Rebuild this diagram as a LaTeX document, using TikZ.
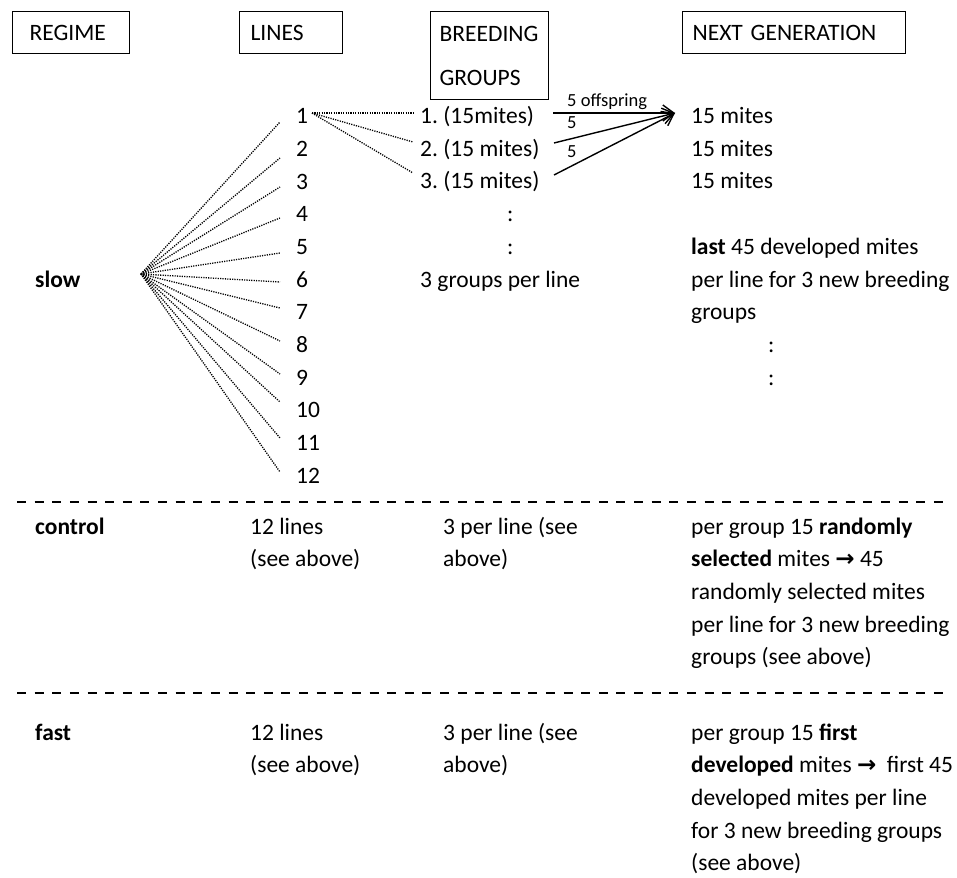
\documentclass[tikz,border=0pt]{standalone}
\usepackage{fontspec}
\setmainfont{Carlito}
\newfontfamily\arrowfont{DejaVu Sans}
\usetikzlibrary{arrows.meta}
\frenchspacing
\begin{document}
\begin{tikzpicture}[x=1pt,y=-1pt,
  txt/.style={anchor=base west, inner sep=0pt, align=left, font=\fontsize{23.5}{32.67}\selectfont},
  hdr/.style={draw, line width=1.2pt, anchor=north west, inner ysep=0pt, align=left, font=\fontsize{23.5}{44}\selectfont},
  fanline/.style={line width=1.3pt, dash pattern=on 1.2pt off 1.2pt},
  arr/.style={line width=1.4pt, -{Straight Barb[length=11pt,width=16pt,line width=1.4pt]}},
  sepline/.style={line width=1.5pt, dash pattern=on 9pt off 8.63pt},
  lab/.style={anchor=base west, inner sep=0pt, font=\fontsize{18.5}{20}\selectfont}]
\useasboundingbox (0,0) rectangle (957,877);
\fill[white] (0,0) rectangle (957,877);
\newcommand\myarrow{{\arrowfont\bfseries\fontsize{23}{24}\selectfont →}}
% header boxes
\node[hdr, inner xsep=17pt, text width=83pt, minimum height=42pt] (hregime) at (12,11) {REGIME};
\node[hdr, inner xsep=11pt, text width=81pt, minimum height=42pt] (hlines) at (239,11) {LINES};
\node[hdr, inner xsep=9pt, text width=100pt, minimum height=88pt] (hbreed) at (430,11) {BREEDING\\GROUPS};
\node[hdr, inner xsep=10pt, text width=203pt, minimum height=42pt] (hnext) at (682,11) {NEXT GENERATION};
% slow regime
\node[txt] (slow) at (35,287) {\textbf{slow}};
\coordinate (fan) at (141,274);
\foreach \i/\y in {1/122,2/158,3/187,4/218,5/253,6/282,7/308,8/341,9/374,10/402,11/438,12/472}
  \coordinate (f\i) at (280,\y);
\foreach \i in {1,...,12}
  \node[txt] (n\i) at (296,{123.7+32.67*(\i-1)}) {\i};
\foreach \i in {1,...,12}
  \draw[fanline] (fan) -- (f\i);
% breeding groups
\node[txt] (g1) at (420,123.7) {1. (15mites)};
\node[txt] (g2) at (420,156.3) {2. (15 mites)};
\node[txt] (g3) at (420,189) {3. (15 mites)};
\node[txt] (bd1) at (507,221.7) {:};
\node[txt] (bd2) at (507,254.3) {:};
\node[txt] (gpl) at (420,287) {3 groups per line};
\coordinate (l1) at (312,113);
\coordinate (d1) at (413,113);
\coordinate (d2) at (413,142);
\coordinate (d3) at (413,173);
\foreach \i in {1,2,3}
  \draw[fanline] (l1) -- (d\i);
% arrows to next generation
\coordinate (a1) at (553,113);
\coordinate (a2) at (554,143);
\coordinate (a3) at (554,175);
\coordinate (tip) at (675,113);
\draw[arr] (a1) -- (tip);
\draw[arr] (a2) -- (tip);
\draw[arr] (a3) -- (tip);
\node[lab] (o1) at (567,107) {5 offspring};
\node[lab] (o2) at (567,129) {5};
\node[lab] (o3) at (567,158) {5};
% next generation
\node[txt] (m1) at (691,123.7) {15 mites};
\node[txt] (m2) at (691,156.3) {15 mites};
\node[txt] (m3) at (691,189) {15 mites};
% multi-line nodes: base anchor = baseline of last line
\node[txt] (last) at (691,319.7) {\textbf{last} 45 developed mites\\per line for 3 new breeding\\groups};
\node[txt] (nd1) at (768,352.3) {:};
\node[txt] (nd2) at (768,385) {:};
% separators
\coordinate (s1a) at (17,502);
\coordinate (s1b) at (945,502);
\coordinate (s2a) at (17,693);
\coordinate (s2b) at (945,693);
\draw[sepline] (s1a) -- (s1b);
\draw[sepline] (s2a) -- (s2b);
% control
\node[txt] (control) at (35,534) {\textbf{control}};
\node[txt] (clines) at (250,566.7) {12 lines\\(see above)};
\node[txt] (cgroups) at (443,566.7) {3 per line (see\\above)};
\node[txt] (cnext) at (691,664.7) {per group 15 \textbf{randomly}\\\textbf{selected} mites \myarrow{} 45\\randomly selected mites\\per line for 3 new breeding\\groups (see above)};
% fast
\node[txt] (fast) at (35,740) {\textbf{fast}};
\node[txt] (flines) at (250,772.7) {12 lines\\(see above)};
\node[txt] (fgroups) at (443,772.7) {3 per line (see\\above)};
\node[txt] (fnext) at (691,870.7) {per group 15 \textbf{first}\\\textbf{developed} mites \myarrow\ \ first 45\\developed mites per line\\for 3 new breeding groups\\(see above)};
\end{tikzpicture}
\end{document}
